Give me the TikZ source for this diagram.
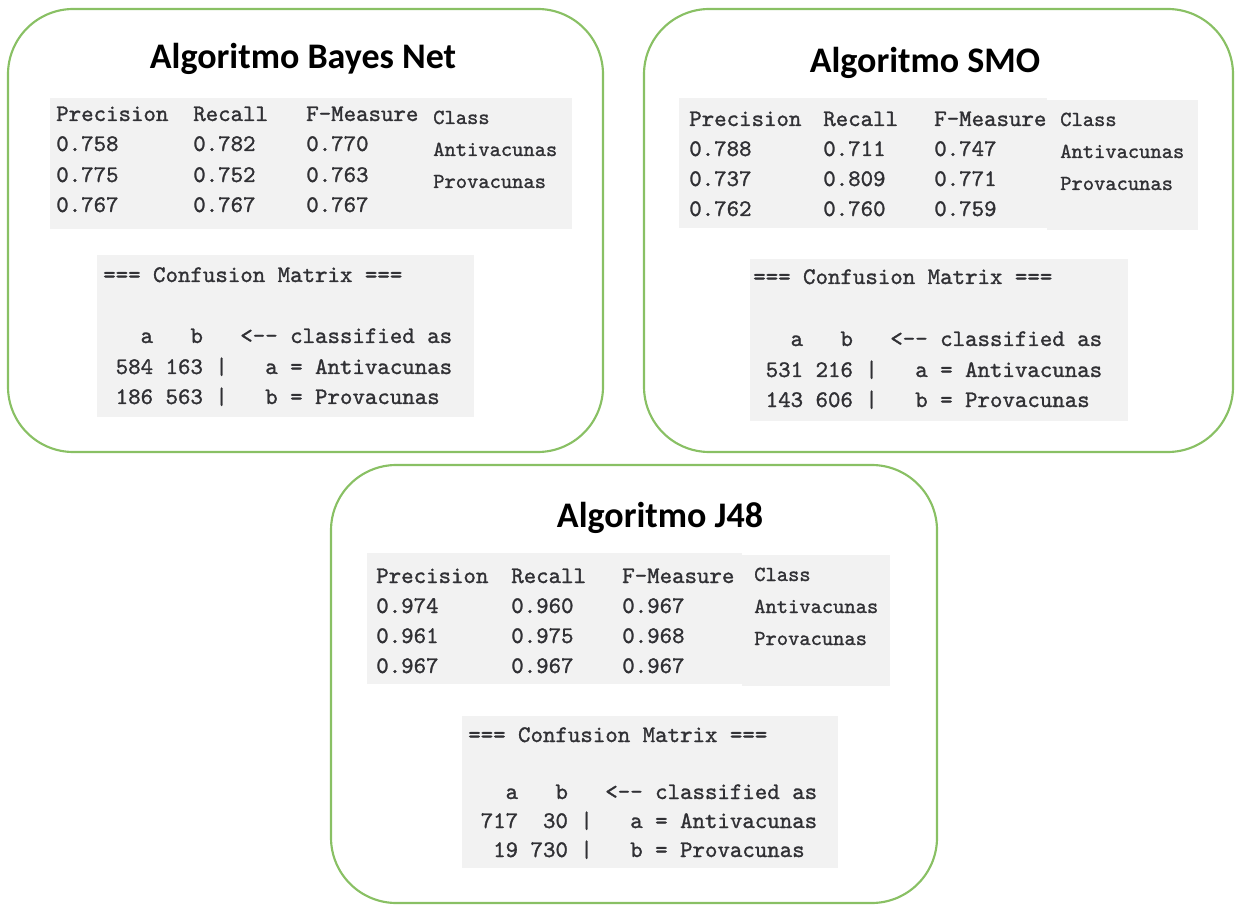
\documentclass[tikz,border=0pt]{standalone}
\usepackage{fontspec}
\newfontfamily\codefont{lmmono10-regular}[Extension=.otf, FakeBold=1.2]
\newfontfamily\titlefont{Carlito}
\definecolor{frame}{RGB}{137,192,100}
\definecolor{panel}{RGB}{242,242,242}
\definecolor{ink}{RGB}{48,48,52}
\tikzset{
  card/.style={draw=frame, line width=1.6pt, rounded corners=49pt},
  panelbox/.style={fill=panel, draw=none},
  title/.style={font=\titlefont\bfseries\fontsize{27}{31}\selectfont, text=black, inner sep=0pt},
  mono/.style={font=\codefont\fontsize{17.8}{20}\selectfont, text=ink, inner sep=0pt, anchor=base west},
  cls/.style={font=\codefont\fontsize{16.1}{19}\selectfont, text=ink, inner sep=0pt, anchor=base west},
}
\begin{document}
\begin{tikzpicture}[x=0.75pt,y=-0.75pt]
\useasboundingbox (0,0) rectangle (1235,905);

% ---------- Bayes Net ----------
\draw[card] (8,9) rectangle (603,452);
\node[title] (bnT) at (303,59) {Algoritmo Bayes Net};
\fill[panelbox] (50,98) rectangle (572,229);
\node[mono] (bnH1) at (56,121) {Precision};
\node[mono] (bnH2) at (193,121) {Recall};
\node[mono] (bnH3) at (306,121) {F-Measure};
\node[cls] (bnH4) at (433,124) {Class};
\node[mono] (bnA1) at (56,151) {0.758};
\node[mono] (bnA2) at (193,151) {0.782};
\node[mono] (bnA3) at (306,151) {0.770};
\node[cls] (bnA4) at (433,156) {Antivacunas};
\node[mono] (bnB1) at (56,182) {0.775};
\node[mono] (bnB2) at (193,182) {0.752};
\node[mono] (bnB3) at (306,182) {0.763};
\node[cls] (bnB4) at (433,188) {Provacunas};
\node[mono] (bnC1) at (56,212) {0.767};
\node[mono] (bnC2) at (193,212) {0.767};
\node[mono] (bnC3) at (306,212) {0.767};
\fill[panelbox] (97,255) rectangle (474,417);
\node[mono] (bnM0) at (103,282) {===~Confusion~Matrix~===};
\node[mono] (bnM1) at (103,343) {~~~a~~~b~~~<-{}-~classified~as};
\node[mono] (bnM2) at (103,374) {~584~163~|~~~a~=~Antivacunas};
\node[mono] (bnM3) at (103,404) {~186~563~|~~~b~=~Provacunas};

% ---------- SMO ----------
\draw[card] (644,9) rectangle (1233,452);
\node[title] (smT) at (925,63) {Algoritmo SMO};
\fill[panelbox] (679,98) rectangle (1047,228);
\fill[panelbox] (1047,100) rectangle (1198,230);
\node[mono] (smH1) at (689,126) {Precision};
\node[mono] (smH2) at (823,126) {Recall};
\node[mono] (smH3) at (934,126) {F-Measure};
\node[cls] (smH4) at (1060,126) {Class};
\node[mono] (smA1) at (689,156) {0.788};
\node[mono] (smA2) at (823,156) {0.711};
\node[mono] (smA3) at (934,156) {0.747};
\node[cls] (smA4) at (1060,158) {Antivacunas};
\node[mono] (smB1) at (689,186) {0.737};
\node[mono] (smB2) at (823,186) {0.809};
\node[mono] (smB3) at (934,186) {0.771};
\node[cls] (smB4) at (1060,190) {Provacunas};
\node[mono] (smC1) at (689,216) {0.762};
\node[mono] (smC2) at (823,216) {0.760};
\node[mono] (smC3) at (934,216) {0.759};
\fill[panelbox] (750,259) rectangle (1128,421);
\node[mono] (smM0) at (753,284) {===~Confusion~Matrix~===};
\node[mono] (smM1) at (753,346) {~~~a~~~b~~~<-{}-~classified~as};
\node[mono] (smM2) at (753,377) {~531~216~|~~~a~=~Antivacunas};
\node[mono] (smM3) at (753,407) {~143~606~|~~~b~=~Provacunas};

% ---------- J48 ----------
\draw[card] (331,465) rectangle (937,903);
\node[title] (jT) at (660,518) {Algoritmo J48};
\fill[panelbox] (367,553) rectangle (742,684);
\fill[panelbox] (742,555) rectangle (890,686);
\node[mono] (jH1) at (376,583) {Precision};
\node[mono] (jH2) at (511,583) {Recall};
\node[mono] (jH3) at (622,583) {F-Measure};
\node[cls] (jH4) at (754,581) {Class};
\node[mono] (jA1) at (376,613) {0.974};
\node[mono] (jA2) at (511,613) {0.960};
\node[mono] (jA3) at (622,613) {0.967};
\node[cls] (jA4) at (754,613) {Antivacunas};
\node[mono] (jB1) at (376,643) {0.961};
\node[mono] (jB2) at (511,643) {0.975};
\node[mono] (jB3) at (622,643) {0.968};
\node[cls] (jB4) at (754,645) {Provacunas};
\node[mono] (jC1) at (376,673) {0.967};
\node[mono] (jC2) at (511,673) {0.967};
\node[mono] (jC3) at (622,673) {0.967};
\fill[panelbox] (462,716) rectangle (838,868);
\node[mono] (jM0) at (468,742) {===~Confusion~Matrix~===};
\node[mono] (jM1) at (468,799) {~~~a~~~b~~~<-{}-~classified~as};
\node[mono] (jM2) at (468,828) {~717~~30~|~~~a~=~Antivacunas};
\node[mono] (jM3) at (468,857) {~~19~730~|~~~b~=~Provacunas};
\end{tikzpicture}
\end{document}
